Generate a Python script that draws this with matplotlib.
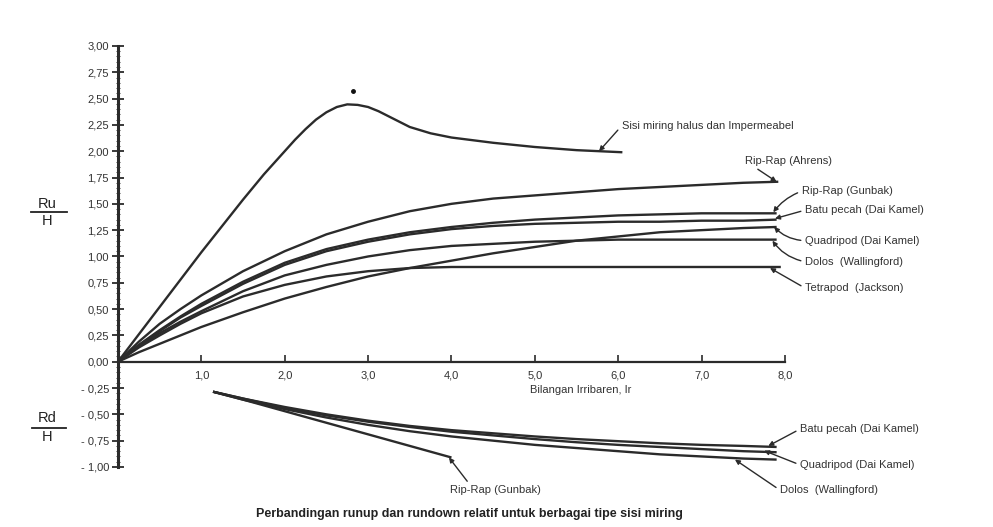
import matplotlib
matplotlib.use("Agg")
import matplotlib.pyplot as plt
from matplotlib.ticker import FixedLocator, MultipleLocator, FuncFormatter
from matplotlib.lines import Line2D

plt.rcParams['font.family'] = ['Liberation Sans', 'DejaVu Sans']

# --- runup Ru/H ---
smooth_x = [0, 0.25, 0.5, 0.75, 1.0, 1.25, 1.5, 1.75, 2.0, 2.125, 2.25, 2.375, 2.5, 2.625, 2.75,
            2.875, 3.0, 3.125, 3.25, 3.375, 3.5, 3.625, 3.75, 4.0, 4.5, 5.0, 5.5, 6.05]
smooth_y = [0, 0.26, 0.52, 0.78, 1.04, 1.29, 1.54, 1.78, 2.0, 2.11, 2.21, 2.30, 2.37, 2.42, 2.445,
            2.44, 2.42, 2.38, 2.33, 2.28, 2.23, 2.20, 2.17, 2.13, 2.08, 2.04, 2.01, 1.99]

ahrens_x = [0, 0.25, 0.5, 0.75, 1.0, 1.5, 2.0, 2.5, 3.0, 3.5, 4.0, 4.5, 5.0, 5.5, 6.0, 6.5, 7.0, 7.5, 7.92]
ahrens_y = [0, 0.19, 0.36, 0.50, 0.63, 0.86, 1.05, 1.21, 1.33, 1.43, 1.50, 1.55, 1.58, 1.61, 1.64, 1.66, 1.68, 1.70, 1.71]

gunbak_x = [0, 0.25, 0.5, 0.75, 1.0, 1.5, 2.0, 2.5, 3.0, 3.5, 4.0, 4.5, 5.0, 5.5, 6.0, 6.5, 7.0, 7.5, 7.9]
gunbak_y = [0, 0.16, 0.30, 0.43, 0.55, 0.76, 0.94, 1.07, 1.16, 1.23, 1.28, 1.32, 1.35, 1.37, 1.39, 1.40, 1.41, 1.41, 1.41]

batu_x = [0, 0.25, 0.5, 0.75, 1.0, 1.5, 2.0, 2.5, 3.0, 3.5, 4.0, 4.5, 5.0, 5.5, 6.0, 6.5, 7.0, 7.5, 7.9]
batu_y = [0, 0.155, 0.29, 0.42, 0.53, 0.74, 0.92, 1.05, 1.14, 1.21, 1.26, 1.29, 1.31, 1.32, 1.33, 1.33, 1.34, 1.34, 1.35]

quad_x = [0, 0.25, 0.5, 0.75, 1.0, 1.5, 2.0, 2.5, 3.0, 3.5, 4.0, 4.5, 5.0, 5.5, 6.0, 6.5, 7.0, 7.5, 7.9]
quad_y = [0, 0.09, 0.17, 0.25, 0.33, 0.47, 0.60, 0.71, 0.81, 0.89, 0.96, 1.03, 1.09, 1.15, 1.19, 1.23, 1.25, 1.27, 1.28]

dolos_x = [0, 0.25, 0.5, 0.75, 1.0, 1.5, 2.0, 2.5, 3.0, 3.5, 4.0, 4.5, 5.0, 5.5, 6.0, 6.5, 7.0, 7.5, 7.9]
dolos_y = [0, 0.145, 0.27, 0.38, 0.48, 0.67, 0.82, 0.92, 1.00, 1.06, 1.10, 1.12, 1.14, 1.15, 1.16, 1.16, 1.16, 1.16, 1.16]

tetra_x = [0, 0.25, 0.5, 0.75, 1.0, 1.5, 2.0, 2.5, 3.0, 3.5, 4.0, 5.0, 6.0, 7.0, 7.95]
tetra_y = [0, 0.135, 0.25, 0.36, 0.46, 0.62, 0.73, 0.81, 0.86, 0.89, 0.90, 0.90, 0.90, 0.90, 0.90]

# --- rundown Rd/H ---
rd_batu_x = [1.14, 1.5, 2.0, 2.5, 3.0, 3.5, 4.0, 4.5, 5.0, 5.5, 6.0, 6.5, 7.0, 7.5, 7.9]
rd_batu_y = [-0.285, -0.35, -0.43, -0.50, -0.56, -0.61, -0.65, -0.68, -0.71, -0.735, -0.755, -0.775, -0.79, -0.80, -0.81]

rd_quad_x = [1.14, 1.5, 2.0, 2.5, 3.0, 3.5, 4.0, 4.5, 5.0, 5.5, 6.0, 6.5, 7.0, 7.5, 7.9]
rd_quad_y = [-0.285, -0.35, -0.44, -0.51, -0.57, -0.62, -0.665, -0.70, -0.735, -0.765, -0.79, -0.81, -0.83, -0.85, -0.86]

rd_dolos_x = [1.14, 1.5, 2.0, 2.5, 3.0, 3.5, 4.0, 4.5, 5.0, 5.5, 6.0, 6.5, 7.0, 7.5, 7.9]
rd_dolos_y = [-0.285, -0.36, -0.45, -0.53, -0.60, -0.66, -0.71, -0.75, -0.79, -0.82, -0.85, -0.88, -0.90, -0.92, -0.93]

rd_gunbak_x = [1.14, 1.5, 2.0, 2.5, 3.0, 3.5, 4.0]
rd_gunbak_y = [-0.285, -0.36, -0.47, -0.58, -0.69, -0.80, -0.91]

peak_dot = (2.82, 2.57)

x_ticks = [1, 2, 3, 4, 5, 6, 7, 8]
y_ticks = [-1.0, -0.75, -0.5, -0.25, 0, 0.25, 0.5, 0.75, 1.0, 1.25, 1.5, 1.75, 2.0, 2.25, 2.5, 2.75, 3.0]

# label text, point on curve, text position, connection rad
up_labels = [
    ("Sisi miring halus dan Impermeabel", (5.77, 2.0), (6.04, 2.24), 0.0),
    ("Rip-Rap (Ahrens)", (7.9, 1.71), (7.52, 1.91), 0.0),
    ("Rip-Rap (Gunbak)", (7.86, 1.42), (8.20, 1.62), 0.15),
    ("Batu pecah (Dai Kamel)", (7.88, 1.36), (8.24, 1.44), 0.0),
    ("Quadripod (Dai Kamel)", (7.87, 1.28), (8.24, 1.15), -0.2),
    ("Dolos  (Wallingford)", (7.85, 1.15), (8.24, 0.95), -0.2),
    ("Tetrapod  (Jackson)", (7.82, 0.89), (8.24, 0.70), 0.0),
]
down_labels = [
    ("Batu pecah (Dai Kamel)", (7.8, -0.80), (8.18, -0.64), 0.0),
    ("Quadripod (Dai Kamel)", (7.75, -0.845), (8.18, -0.98), 0.0),
    ("Dolos  (Wallingford)", (7.4, -0.93), (7.94, -1.22), 0.0),
]

ink = '#2b2b2b'
fig = plt.figure(figsize=(9.93, 5.27), dpi=100)
ax = fig.add_axes([0.1188, 0.1139, 0.6717, 0.7989])

curves = [(smooth_x, smooth_y), (ahrens_x, ahrens_y), (gunbak_x, gunbak_y),
          (batu_x, batu_y), (quad_x, quad_y), (dolos_x, dolos_y), (tetra_x, tetra_y),
          (rd_batu_x, rd_batu_y), (rd_quad_x, rd_quad_y), (rd_dolos_x, rd_dolos_y),
          (rd_gunbak_x, rd_gunbak_y)]
for xs, ys in curves:
    ax.plot(xs, ys, color=ink, lw=1.7, solid_capstyle='butt', solid_joinstyle='round')

ax.plot(*peak_dot, 'o', color='#111', ms=2.5)

ax.set_xlim(0, 8.0)
ax.set_ylim(-1.0, 3.0)

for s in ['top', 'right']:
    ax.spines[s].set_visible(False)
ax.spines['bottom'].set_position(('data', 0))
ax.spines['bottom'].set_linewidth(1.6)
ax.spines['left'].set_linewidth(2.2)
ax.spines['bottom'].set_color(ink)
ax.spines['left'].set_color(ink)

ax.xaxis.set_major_locator(FixedLocator(x_ticks))
ax.xaxis.set_major_formatter(FuncFormatter(lambda v, p: f"{v:.1f}".replace('.', ',')))
ax.yaxis.set_major_locator(FixedLocator(y_ticks))
ax.yaxis.set_minor_locator(MultipleLocator(0.05))


def yfmt(v, p):
    s = f"{abs(v):.2f}".replace('.', ',')
    return f"- {s}" if v < 0 else s


ax.yaxis.set_major_formatter(FuncFormatter(yfmt))
ax.tick_params(axis='x', direction='in', length=5, width=1.2, color=ink,
               labelsize=8, labelcolor='#333', pad=6)
ax.tick_params(axis='y', which='major', direction='inout', length=9, width=1.3,
               color=ink, labelsize=8, labelcolor='#333', pad=2)
ax.tick_params(axis='y', which='minor', direction='inout', length=3.5, width=0.6, color=ink)

arrow_kw = dict(arrowstyle='-|>', color=ink, lw=1.0, mutation_scale=7, shrinkA=1, shrinkB=0)
for text, xy, xytext, rad in up_labels + down_labels:
    ax.annotate(text, xy=xy, xytext=xytext, ha='left', va='center', fontsize=8, color='#333',
                annotation_clip=False,
                arrowprops=dict(connectionstyle=f"arc3,rad={rad}", relpos=(0, 0.5), **arrow_kw))

ax.annotate("Rip-Rap (Gunbak)", xy=(3.97, -0.91), xytext=(4.53, -1.22), ha='center', va='center',
            fontsize=8, color='#333', annotation_clip=False,
            arrowprops=dict(relpos=(0.22, 1.0), **arrow_kw))

ax.text(4.94, -0.27, "Bilangan Irribaren, Ir", fontsize=8, color='#333', ha='left', va='center')

# fraction-style axis names
fig.text(0.0473, 0.612, "Ru", fontsize=10.5, ha='center', va='center', color='#222')
fig.add_artist(Line2D([0.031, 0.067], [0.597, 0.597], color='#222', lw=1.3))
fig.text(0.0473, 0.580, "H", fontsize=10.5, ha='center', va='center', color='#222')
fig.text(0.0473, 0.206, "Rd", fontsize=10.5, ha='center', va='center', color='#222')
fig.add_artist(Line2D([0.032, 0.066], [0.188, 0.188], color='#222', lw=1.3))
fig.text(0.0473, 0.171, "H", fontsize=10.5, ha='center', va='center', color='#222')

fig.text(0.473, 0.025, "Perbandingan runup dan rundown relatif untuk berbagai tipe sisi miring",
         fontsize=9, fontweight='bold', ha='center', va='center', color='#222')

fig.savefig("out.png", dpi=100)
